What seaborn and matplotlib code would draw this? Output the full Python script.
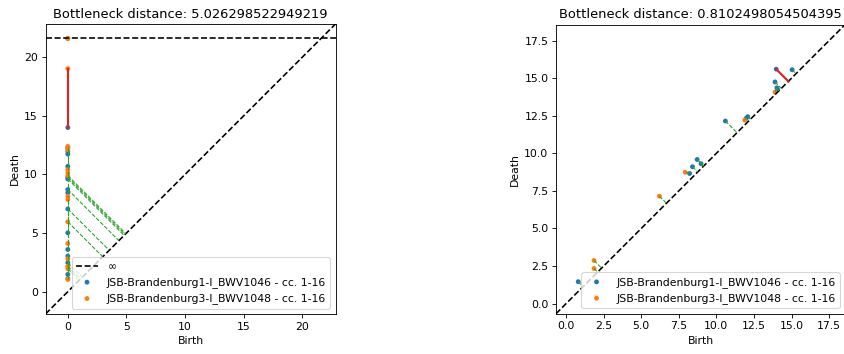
import numpy as np
import matplotlib
matplotlib.use("Agg")
import matplotlib.pyplot as plt
import seaborn as sns

LABELS = ["JSB-Brandenburg1-I_BWV1046 - cc. 1-16",
          "JSB-Brandenburg3-I_BWV1048 - cc. 1-16"]

# ---- H0 diagrams (every class is born at 0) ----
h0_bwv1046_death = [np.inf, 14.0, 12.30, 11.97, 11.74, 10.69, 9.76, 9.61,
                    8.71, 8.43, 7.06, 5.02, 3.60, 3.03, 2.47, 1.47, 1.10]
h0_bwv1046_birth = [0.0] * len(h0_bwv1046_death)
h0_bwv1048_death = [np.inf, 19.026298522949219, 12.39, 12.25, 12.11, 10.41,
                    10.13, 9.90, 8.14, 7.86, 5.96, 4.11, 2.81, 2.18, 1.96, 1.05]
h0_bwv1048_birth = [0.0] * len(h0_bwv1048_death)
# (index in BWV1046, index in BWV1048); -1 means matched to the diagonal
h0_matching = [(0, 0), (1, 1), (2, 2), (3, 3), (4, 6), (5, 4), (9, 5),
               (11, 9), (12, 8), (15, 11), (16, 12), (13, 15),
               (6, -1), (7, -1), (8, -1), (10, -1), (14, -1),
               (-1, 7), (-1, 10), (-1, 13), (-1, 14)]
h0_title = "Bottleneck distance: 5.026298522949219"

# ---- H1 diagrams ----
h1_bwv1046_birth = [0.81, 8.22, 8.41, 8.72, 8.98, 10.60, 11.98, 12.09,
                    13.98, 15.04, 13.90, 14.03, 14.07]
h1_bwv1046_death = [1.46, 8.66, 9.11, 9.59, 9.31, 12.15, 12.33, 12.44,
                    15.6005, 15.56, 14.75, 14.36, 14.25]
h1_bwv1048_birth = [1.86, 1.86, 6.21, 7.93, 11.89, 13.90]
h1_bwv1048_death = [2.87, 2.34, 7.15, 8.74, 12.21, 14.07]
h1_matching = [(0, -1), (-1, 0), (-1, 1), (-1, 2), (1, 3), (2, -1), (3, -1),
               (4, -1), (5, -1), (6, 4), (7, -1), (8, -1), (9, -1),
               (10, -1), (11, 5), (12, -1)]
h1_title = "Bottleneck distance: 0.8102498054504395"


def diagram_bounds(dgms):
    vals = np.concatenate(dgms).ravel()
    finite = vals[np.isfinite(vals)]
    lo, hi = finite.min(), finite.max()
    buf = (hi - lo) / 5
    return lo - buf / 2, hi + buf


def pair_cost(p, q):
    if np.isinf(p[1]) and np.isinf(q[1]):
        return abs(p[0] - q[0])
    return max(abs(p[0] - q[0]), abs(p[1] - q[1]))


def diag_proj(p):
    m = (p[0] + p[1]) / 2
    return np.array([m, m])


def draw_matching(ax, dgm1, dgm2, matching, title):
    lo, hi = diagram_bounds([dgm1, dgm2])
    ax.plot([lo, hi], [lo, hi], "--", c="k")
    allpts = np.concatenate([dgm1, dgm2])
    if np.isinf(allpts).any():
        b_inf = lo + (hi - lo) * 0.95
        ax.plot([lo, hi], [b_inf, b_inf], "--", c="k", label=r"$\infty$")
        dgm1 = np.where(np.isinf(dgm1), b_inf, dgm1)
        dgm2 = np.where(np.isinf(dgm2), b_inf, dgm2)
    for dgm, label, color in zip([dgm1, dgm2], LABELS, ["C0", "C1"]):
        sns.scatterplot(x=dgm[:, 0], y=dgm[:, 1], s=20, color=color,
                        edgecolor="none", label=label, ax=ax)

    costs = []
    for i, j in matching:
        if i >= 0 and j >= 0:
            costs.append(pair_cost(dgm1[i], dgm2[j]))
        elif i >= 0:
            costs.append((dgm1[i, 1] - dgm1[i, 0]) / 2)
        else:
            costs.append((dgm2[j, 1] - dgm2[j, 0]) / 2)
    worst = int(np.argmax(costs))
    for k, (i, j) in enumerate(matching):
        if k == worst:
            c, ls, lw = "C3", "-", 2
        else:
            c, ls, lw = "C2", "--", 1
        if i >= 0 and j >= 0:
            a, b = dgm1[i], dgm2[j]
        elif i >= 0:
            a, b = dgm1[i], diag_proj(dgm1[i])
        else:
            a, b = dgm2[j], diag_proj(dgm2[j])
        ax.plot([a[0], b[0]], [a[1], b[1]], c, linewidth=lw, linestyle=ls)

    ax.set_xlim(lo, hi)
    ax.set_ylim(lo, hi)
    ax.set_xlabel("Birth")
    ax.set_ylabel("Death")
    ax.set_title(title)
    ax.legend(loc="lower right")


DPI = 78
W, H = 844, 354
fig = plt.figure(figsize=(W / DPI + 1e-4, H / DPI + 1e-4), dpi=DPI)
ax1 = fig.add_axes([45.5 / W, 40 / H, 290 / W, 290 / H])
ax2 = fig.add_axes([556 / W, 40.3 / H, 289 / W, 289 / H])

d1 = np.column_stack([h0_bwv1046_birth, h0_bwv1046_death])
d2 = np.column_stack([h0_bwv1048_birth, h0_bwv1048_death])
draw_matching(ax1, d1, d2, h0_matching, h0_title)

e1 = np.column_stack([h1_bwv1046_birth, h1_bwv1046_death])
e2 = np.column_stack([h1_bwv1048_birth, h1_bwv1048_death])
draw_matching(ax2, e1, e2, h1_matching, h1_title)

fig.savefig("out.png", dpi=DPI)
